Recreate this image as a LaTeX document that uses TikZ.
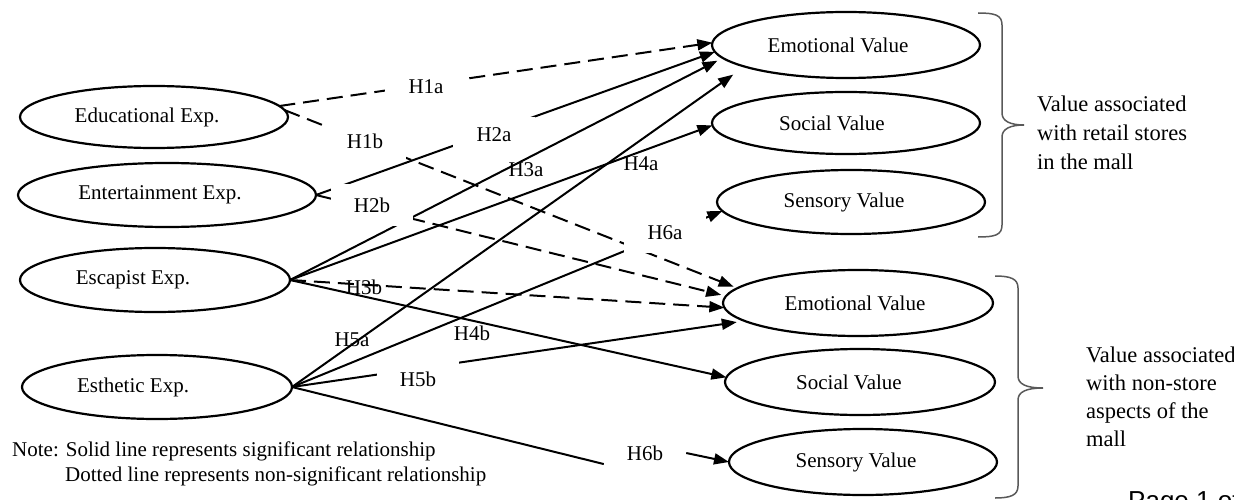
\documentclass[tikz,border=0pt]{standalone}
\usepackage{fontspec}
\setmainfont{Liberation Serif}
\newfontfamily\pagefont{Liberation Sans}
\usetikzlibrary{arrows.meta,shapes.geometric}
\pgfdeclarelayer{bg}
\pgfsetlayers{bg,main}
\begin{document}
\begin{tikzpicture}[x=1pt,y=-1pt,
  ell/.style={ellipse, draw, line width=2.2pt, inner sep=0pt, outer sep=0pt, font=\fontsize{21}{25}\selectfont},
  lbox/.style={fill=white, inner sep=0pt, minimum width=82pt, minimum height=40pt, font=\fontsize{21}{25}\selectfont},
  lbl/.style={inner sep=0pt, font=\fontsize{21}{25}\selectfont},
  sig/.style={line width=2pt, -{Triangle[length=15pt,width=11pt]}},
  nsig/.style={sig, dash pattern=on 16pt off 8pt},
  txt/.style={inner sep=0pt, anchor=base west, font=\fontsize{21}{25}\selectfont},
  rtxt/.style={inner sep=0pt, anchor=base west, font=\fontsize{22.5}{27}\selectfont},
  bracel/.style={line width=1.5pt, draw=black!65}
]
\useasboundingbox (0,0) rectangle (1234,500);

% left ellipses
\node[ell, minimum width=268pt, minimum height=62pt] (edu) at (154,117) {Educational Exp.\hspace*{14pt}};
\node[ell, minimum width=298pt, minimum height=64pt] (ent) at (167,195) {Entertainment Exp.\hspace*{14pt}};
\node[ell, minimum width=270pt, minimum height=64pt] (esc) at (155,280) {Escapist Exp.\hspace*{44pt}};
\node[ell, minimum width=270pt, minimum height=64pt] (est) at (157,387) {Esthetic Exp.\hspace*{48pt}};

% right ellipses
\node[ell, minimum width=268pt, minimum height=66pt] (e1) at (846,45) {Emotional Value\hspace*{16pt}};
\node[ell, minimum width=268pt, minimum height=62pt] (s1) at (846,123) {Social Value\hspace*{28pt}};
\node[ell, minimum width=268pt, minimum height=64pt] (se1) at (851,202) {Sensory Value\hspace*{14pt}};
\node[ell, minimum width=270pt, minimum height=66pt] (e2) at (858,303) {Emotional Value\hspace*{6pt}};
\node[ell, minimum width=270pt, minimum height=66pt] (s2) at (860,382) {Social Value\hspace*{22pt}};
\node[ell, minimum width=268pt, minimum height=66pt] (se2) at (863,462) {Sensory Value\hspace*{14pt}};

% boxed labels (cover the lines)
\node[lbox] (h1a) at (426,87) {H1a};
\node[lbox, minimum height=38pt] (h1b) at (365,141) {H1b};
\node[lbox, minimum height=36pt] (h2a) at (494,135) {H2a};
\node[lbox, minimum height=42pt] (h2b) at (372,205) {H2b};
\node[lbox] (h5b) at (418,379) {H5b};
\node[lbox] (h6a) at (665,233) {H6a};
\node[lbox] (h6b) at (645,453) {H6b};

% plain labels
\node[lbl] (h3a) at (526,170) {H3a};
\node[lbl] (h3b) at (364,287) {H3b};
\node[lbl] (h4a) at (641,164) {H4a};
\node[lbl] (h4b) at (472,333) {H4b};
\node[lbl] (h5a) at (352,340) {H5a};

% connectors
\begin{pgfonlayer}{bg}
\draw[nsig] (edu.5) -- (e1.179);
\draw[nsig, shorten >=4pt] (edu.3) -- (e2.173);
\draw[sig] (ent.east) -- (e1.183);
\draw[nsig, shorten >=5pt] (ent.east) -- (e2.177);
\draw[sig, shorten >=6pt] (esc.east) -- (e1.186);
\draw[nsig] (esc.east) -- (e2.182);
\draw[sig] (esc.east) -- (s1.181);
\draw[sig] (esc.east) -- (s2.178);
\draw[sig, shorten >=14pt] (est.east) -- (e1.192);
\draw[sig, shorten >=8pt] (est.east) -- (e2.189);
\draw[sig] (est.east) -- (se1.184);
\draw[line width=2pt] (est.east) -- (h6b.195);
\draw[sig] (h6b.east) -- (se2.180);
\end{pgfonlayer}

% braces
\draw[bracel] (978,13) .. controls (995,13) and (1002,15) .. (1002,25) -- (1002,113)
  .. controls (1002,121) and (1010,125) .. (1024,125)
  .. controls (1010,125) and (1002,129) .. (1002,137) -- (1002,225)
  .. controls (1002,235) and (995,237) .. (978,237);
\draw[bracel] (995,276) .. controls (1011,276) and (1018,279) .. (1018,288) -- (1018,376)
  .. controls (1018,384) and (1026,388) .. (1043,388)
  .. controls (1026,388) and (1018,392) .. (1018,400) -- (1018,486)
  .. controls (1018,495) and (1011,498) .. (995,498);

% group texts
\node[rtxt] (rt1) at (1037,112) {Value associated};
\node[rtxt] (rt2) at (1037,141) {with retail stores};
\node[rtxt] (rt3) at (1037,169) {in the mall};
\node[rtxt] (rb1) at (1086,362) {Value associated};
\node[rtxt] (rb2) at (1086,390) {with non-store};
\node[rtxt] (rb3) at (1086,418) {aspects of the};
\node[rtxt] (rb4) at (1086,446) {mall};

% note
\node[txt] (note1) at (12,456) {Note: Solid line represents significant relationship};
\node[txt] (note2) at (65,481) {Dotted line represents non-significant relationship};

% page footer (cut by the page edge)
\node[inner sep=0pt, anchor=base west, font=\pagefont\fontsize{26}{30}\selectfont] (page) at (1128,509) {Page 1 of};
\end{tikzpicture}
\end{document}
